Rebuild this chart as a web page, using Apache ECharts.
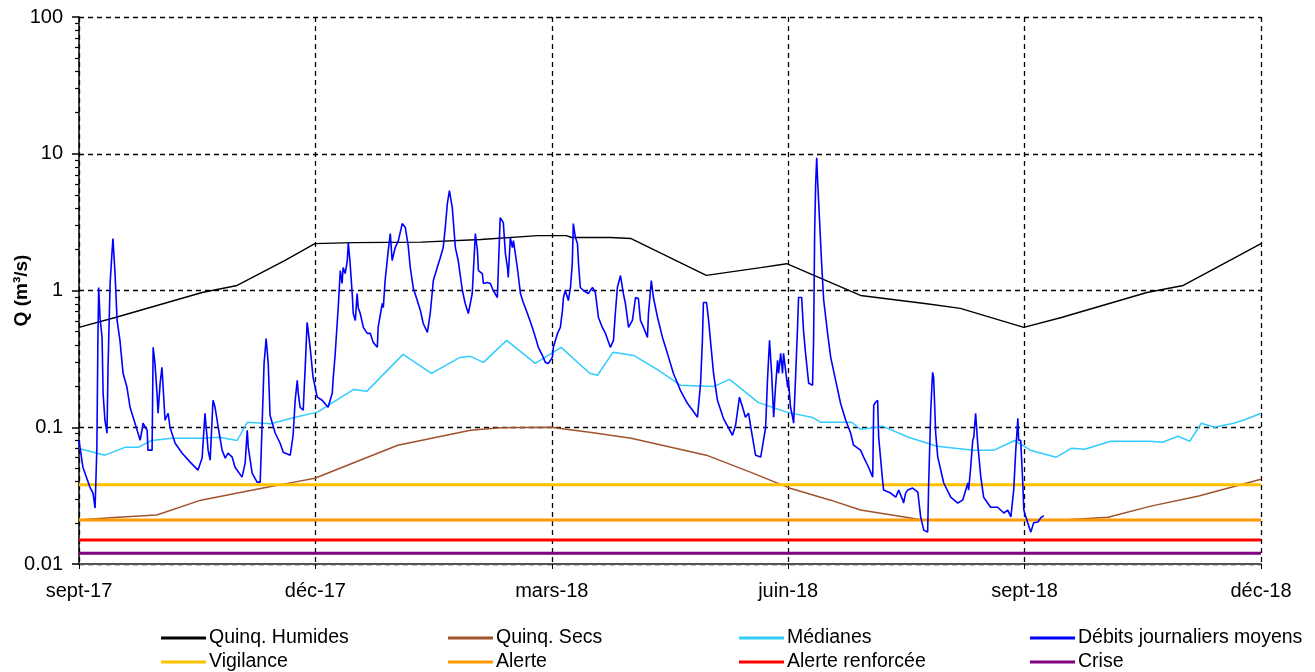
<!DOCTYPE html>
<html><head><meta charset="utf-8">
<script src="https://cdn.jsdelivr.net/npm/echarts@6/dist/echarts.min.js"></script>
<style>html,body{margin:0;padding:0;background:#fff}#c{width:1315px;height:672px}</style>
</head><body><div id="c"></div>
<script>
// x axis: day index from 1 Sept 2017
const xTickLabels = ['sept-17','déc-17','mars-18','juin-18','sept-18','déc-18'];
const yMajorTicks = [0.01, 0.1, 1, 10, 100];
const yMinorTicks = [0.02,0.03,0.04,0.05,0.06,0.07,0.08,0.09,0.2,0.3,0.4,0.5,0.6,0.7,0.8,0.9,2,3,4,5,6,7,8,9,20,30,40,50,60,70,80,90];

const humDays = [0,14,47.5,61,79.5,91,106,132,155,177,188,190,205,213,242,263,273,301.5,327,340,364.5,379,412,426,444,456];
const humVals = [0.537,0.635,0.967,1.088,1.66,2.20,2.24,2.26,2.36,2.52,2.52,2.44,2.44,2.40,1.29,1.47,1.57,0.92,0.80,0.74,0.537,0.635,0.967,1.088,1.66,2.20];

const secDays = [0,15,30,47,73,83,91,105.5,123,151,162.5,182,197,213,242,259,274,290,301.5,325,381,397,413.5,432,456];
const secVals = [0.021,0.022,0.0228,0.0293,0.0365,0.0397,0.0424,0.0546,0.0739,0.095,0.099,0.1,0.092,0.083,0.0625,0.047,0.036,0.0293,0.0248,0.0211,0.0211,0.022,0.0265,0.0314,0.0417];

const medDays = [0,10,18,23,28,36,47.5,54,61,65,74,83,92,106,111,125,136,147,151,156,165,176,186,197,200,206,214,223,232,245,251,262,273,283,286,298,301.5,308,310,320,331,345,353,361,367,377,383,388,398,413,418,424,428.5,433,438,445.5,451,456];
const medVals = [0.070,0.0625,0.0715,0.0715,0.080,0.083,0.083,0.0845,0.080,0.109,0.106,0.118,0.129,0.189,0.183,0.341,0.248,0.324,0.330,0.298,0.432,0.293,0.384,0.248,0.24,0.353,0.335,0.265,0.203,0.199,0.224,0.152,0.129,0.118,0.109,0.109,0.0967,0.1,0.102,0.0845,0.0727,0.068,0.068,0.080,0.068,0.0604,0.0703,0.0691,0.079,0.079,0.0777,0.086,0.079,0.107,0.1,0.107,0.116,0.1265];

const debDays = [0,1.5,4.2,5.4,6.2,6.6,6.9,7.3,7.6,8.1,8.9,9.3,10,10.8,11.2,12,12.7,13.1,13.9,14.7,15.8,17,18.5,19.7,21.6,23.6,24.3,24.7,26.3,26.6,28.2,28.6,29.3,30.1,30.5,31.3,32,33.2,34.4,35.1,37.1,39.8,42.9,45.9,47.5,48.6,49.4,49.8,50.6,51.7,52.5,53.7,55.2,56.4,57.5,59.1,60.2,62.9,64.1,64.9,65.3,66.8,68.7,69.9,70.7,71.4,72.2,73,73.7,75.7,77.6,78.8,81.5,82.6,83.4,84.2,84.6,85.3,86.5,87.3,88,88.4,89.2,90.3,91.9,93.8,96.1,97.7,98.1,98.8,100,100.8,101.5,101.9,102.7,103.5,103.9,104.6,105.4,105.8,106.6,107.3,107.7,108.5,109.7,111.2,112.4,113.5,115.1,115.4,117,117.4,118.1,119.3,120.1,120.8,122,123.2,124.7,125.9,127,127.8,129,130.5,131.7,132.8,134.4,135.5,136.7,138.2,139.4,140.5,141.3,142.1,142.9,144,145.2,146.3,147.9,149,150.2,151.7,152.9,153.7,154.1,155.6,156,157.5,158.7,159.8,161.4,161.8,162.5,163.7,164.5,165.3,165.6,166.4,167.2,167.6,169.1,170.3,171.4,173,174.9,176.1,177.2,178.8,179.9,181.1,182.6,183,184.6,185.7,186.5,186.9,187.6,188.8,189.6,190.3,190.7,191.5,192.3,192.7,193.4,194.6,196.5,198.1,199.2,200.4,201.9,203.1,205,206.2,206.9,207.7,208.9,210,210.8,212,213.5,214.7,215.8,216.6,217.8,219.3,219.7,220.8,221.6,223.2,225.1,227,229.3,232,234.7,236.7,238.6,239.8,240.5,240.9,242.1,242.9,243.6,244.8,246.3,248.6,252.1,253.3,254.8,256,257.1,258.3,259.5,261,263,264.9,265.6,266.4,267.2,268,268.7,269.5,269.9,270.7,271.4,271.8,272.6,273.4,273.7,274.5,275.3,275.7,276.4,277.2,277.6,278.8,279.5,280.3,281.1,281.5,283,283.4,283.8,284.2,284.6,284.9,285.7,286.5,287.3,288.8,290,291.9,293.8,295.8,297.7,298.8,301.5,302.7,304.6,306.2,306.6,307.3,308.1,308.5,310,310.4,313.1,315.1,316.2,317.8,318.1,318.9,319.7,321.6,323.6,324.7,325.9,327.4,327.8,328.6,329.3,329.7,330.5,331.3,333.6,336.3,339,340.9,342.1,342.9,343.2,344,344.8,345.2,345.9,346.7,347.9,349,351.7,354.4,356.8,358.3,359.5,360.6,361.4,362.2,362.5,363.3,364.1,364.5,365.3,366,367.2,368.3,369.9,371,372.2];
const debVals = [0.080,0.051,0.0365,0.033,0.0256,0.0248,0.0715,0.454,1.052,0.635,0.454,0.177,0.1126,0.0904,0.274,1.125,1.862,2.397,1.331,0.604,0.432,0.248,0.196,0.14,0.107,0.0804,0.0951,0.107,0.0951,0.068,0.068,0.384,0.293,0.177,0.1266,0.2095,0.274,0.1126,0.1266,0.1,0.0764,0.0646,0.0556,0.0486,0.0595,0.1266,0.0846,0.068,0.0575,0.1575,0.14,0.1,0.068,0.0595,0.0646,0.0605,0.051,0.0432,0.0547,0.0951,0.0715,0.0462,0.0397,0.0397,0.1126,0.293,0.446,0.293,0.1224,0.0904,0.0764,0.0657,0.0625,0.0874,0.1575,0.2204,0.177,0.14,0.1332,0.2836,0.584,0.511,0.377,0.232,0.166,0.1575,0.14,0.177,0.232,0.3354,0.752,1.40,1.125,1.473,1.331,1.656,2.242,1.574,0.951,0.679,0.604,0.951,0.752,0.679,0.537,0.4855,0.4855,0.4175,0.384,0.537,0.8035,0.752,1.183,1.959,2.607,1.656,2.061,2.318,3.084,2.885,2.131,1.473,1.034,0.845,0.715,0.574,0.494,0.679,1.183,1.473,1.742,2.061,2.885,4.316,5.371,4.036,2.061,1.656,1.0,0.8035,0.679,0.951,2.607,1.959,1.40,1.331,1.125,1.144,1.125,1.0,0.889,1.473,3.413,3.137,1.862,1.473,1.245,2.439,2.061,2.318,1.473,0.951,0.8175,0.679,0.537,0.454,0.384,0.335,0.298,0.293,0.3245,0.384,0.4855,0.537,0.715,0.889,1.0,0.845,1.052,1.574,3.084,2.439,2.203,1.574,1.052,1.0,0.951,1.052,0.967,0.635,0.537,0.4855,0.384,0.432,0.679,1.052,1.287,0.951,0.8035,0.537,0.604,0.889,0.874,0.604,0.537,0.454,0.679,1.183,0.889,0.635,0.454,0.347,0.248,0.1864,0.1497,0.1332,0.1184,0.2095,0.432,0.8175,0.8175,0.604,0.432,0.248,0.1575,0.1163,0.0874,0.1034,0.166,0.14,0.1184,0.1266,0.0919,0.0625,0.0605,0.1,0.2204,0.432,0.248,0.1184,0.196,0.3085,0.248,0.347,0.248,0.347,0.2608,0.196,0.2204,0.14,0.1184,0.107,0.2204,0.537,0.889,0.889,0.511,0.347,0.248,0.2095,0.2026,0.432,2.607,6.036,9.35,6.684,3.244,1.574,0.845,0.4855,0.3245,0.2204,0.1497,0.1126,0.0904,0.0739,0.068,0.0605,0.051,0.0432,0.1448,0.1523,0.1575,0.0846,0.0411,0.0347,0.033,0.0308,0.0347,0.0293,0.0279,0.033,0.0347,0.0359,0.0336,0.0221,0.0177,0.0171,0.0391,0.1332,0.2522,0.232,0.0904,0.0605,0.0391,0.0308,0.0279,0.0293,0.0347,0.0391,0.0347,0.051,0.0804,0.0846,0.1266,0.0764,0.0432,0.0308,0.026,0.026,0.0236,0.0248,0.0221,0.0347,0.068,0.1163,0.0804,0.0804,0.0391,0.0248,0.0221,0.02,0.0171,0.02,0.0203,0.0217,0.0226];

const thresholdNames = ['Vigilance','Alerte','Alerte renforcée','Crise'];
const thresholdVals = [0.038, 0.021, 0.015, 0.012];
const xRange = [0, 456];

const FONT = "'Liberation Sans', Arial, sans-serif";
const zip = (a, b) => a.map((d, i) => [d, b[i]]);

const chart = echarts.init(document.getElementById('c'), null, {renderer: 'canvas'});
const thrColors = ['#FFC000', '#FF9900', '#FF0000', '#800080'];

const series = [
  {name: 'Quinq. Humides', type: 'line', data: zip(humDays, humVals), color: '#000000', lineStyle: {width: 1.4}},
  {name: 'Quinq. Secs', type: 'line', data: zip(secDays, secVals), color: '#A0522D', lineStyle: {width: 1.5}},
  {name: 'Médianes', type: 'line', data: zip(medDays, medVals), color: '#33CCFF', lineStyle: {width: 1.5}},
];
thresholdNames.forEach((n, i) => {
  series.push({name: n, type: 'line', data: xRange.map(d => [d, thresholdVals[i]]), color: thrColors[i], lineStyle: {width: 3}});
});
series.push({name: 'Débits journaliers moyens', type: 'line', data: zip(debDays, debVals), color: '#0000FF', lineStyle: {width: 1.6}});
series.forEach(s => { s.showSymbol = false; s.symbol = 'none'; s.silent = true; s.z = 3; });

const legendCols = [
  ['Quinq. Humides', 'Vigilance'],
  ['Quinq. Secs', 'Alerte'],
  ['Médianes', 'Alerte renforcée'],
  ['Débits journaliers moyens', 'Crise'],
];
const legendLefts = [161, 448, 739, 1030];
const legends = legendCols.map((names, i) => ({
  orient: 'vertical', left: legendLefts[i], top: 628, itemGap: 4, padding: 0,
  icon: 'rect', itemWidth: 45, itemHeight: 3,
  textStyle: {fontFamily: FONT, fontSize: 19.5, color: '#000', padding: [0, 0, 0, -2]},
  data: names, selectedMode: false
}));

chart.setOption({
  animation: false,
  backgroundColor: '#fff',
  grid: {left: 79, right: 54, top: 17, bottom: 108, containLabel: false, outerBoundsMode: 'none'},
  legend: legends,
  xAxis: {
    type: 'value', min: 0, max: 456, interval: 91.2,
    axisLine: {lineStyle: {color: '#555', width: 2}},
    axisTick: {show: true, length: 5, lineStyle: {color: '#000'}},
    axisLabel: {fontFamily: FONT, fontSize: 20, color: '#000', margin: 17,
      formatter: v => xTickLabels[Math.round(v / 91.2)] || ''},
    splitLine: {show: true, lineStyle: {type: [5, 4], color: '#000', width: 1.3}}
  },
  yAxis: [{
    type: 'log', logBase: 10, min: 0.01, max: 100,
    name: 'Q (m³/s)', nameLocation: 'middle', nameGap: 48, nameRotate: 90, nameMoveOverlap: false,
    nameTextStyle: {fontFamily: FONT, fontSize: 19, fontWeight: 'bold', color: '#000'},
    axisLine: {show: true, lineStyle: {color: '#000', width: 1.5}},
    axisTick: {show: true, length: 7, lineStyle: {color: '#000', width: 1.5}},
    axisLabel: {fontFamily: FONT, fontSize: 20, color: '#000', margin: 16,
      formatter: v => String(v)},
    splitLine: {show: true, lineStyle: {type: [5, 4], color: '#000', width: 1.3}}
  }, {
    type: 'log', logBase: 10, min: 0.01, max: 100, position: 'left',
    axisLine: {show: false},
    axisTick: {show: true, length: 4, customValues: yMinorTicks, lineStyle: {color: '#000', width: 1.2}},
    axisLabel: {show: false},
    splitLine: {show: false}
  }],
  series: series
});
</script></body></html>
